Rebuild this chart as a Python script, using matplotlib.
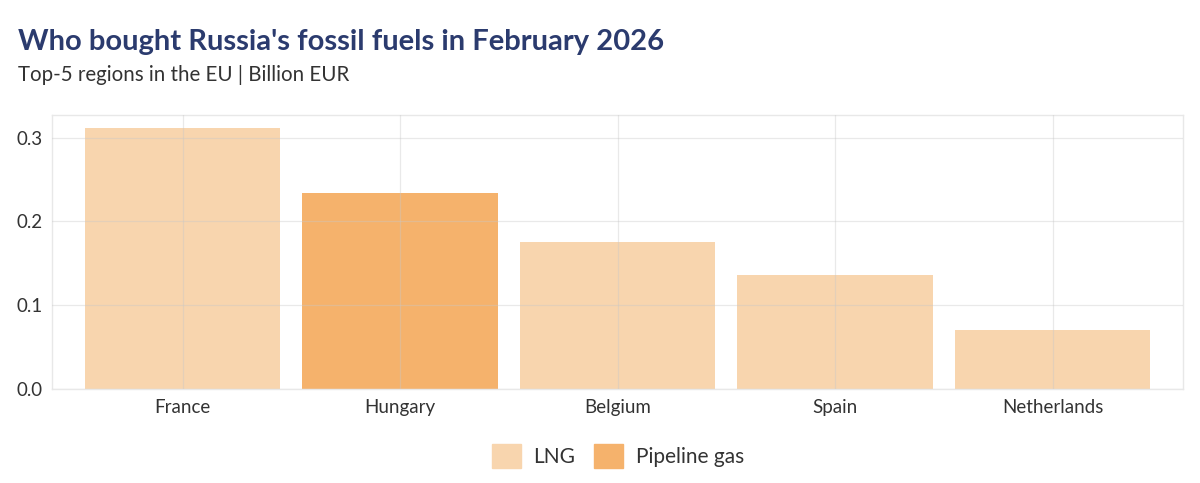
import matplotlib
matplotlib.use("Agg")
import matplotlib.pyplot as plt
from matplotlib.patches import Patch

plt.rcParams['font.family'] = ['Lato', 'DejaVu Sans']

# data
countries = ['France', 'Hungary', 'Belgium', 'Spain', 'Netherlands']
values = [0.312, 0.234, 0.176, 0.136, 0.070]
fuel = ['LNG', 'Pipeline gas', 'LNG', 'LNG', 'LNG']
yticks = [0.0, 0.1, 0.2, 0.3]

colors = {'LNG': '#f8d5ae', 'Pipeline gas': '#f5b26c'}

fig = plt.figure(figsize=(12, 4.83), dpi=100)
ax = fig.add_axes([52 / 1200, 1 - 389 / 483, (1183 - 52) / 1200, (389 - 115) / 483])

x = range(len(countries))
ax.bar(x, values, width=0.9, color=[colors[f] for f in fuel], zorder=1)

ax.set_xlim(-0.6, len(countries) - 0.4)
ax.set_ylim(0, 0.327)
ax.set_xticks(list(x))
ax.set_xticklabels(countries)
ax.set_yticks(yticks)
ax.set_yticklabels([f'{v:.1f}' for v in yticks])
ax.tick_params(length=0, labelsize=13.5, labelcolor='#333333', pad=7)

ax.grid(True, color='#c8c8c8', linewidth=0.9, alpha=0.4, zorder=2)
ax.set_axisbelow(False)
for s in ax.spines.values():
    s.set_color('#e8e8e8')
    s.set_linewidth(1)

fig.text(18 / 1200, 1 - 42 / 483, "Who bought Russia's fossil fuels in February 2026",
         fontsize=21, fontweight='bold', color='#2b3b6e', va='center')
fig.text(18 / 1200, 1 - 75 / 483, 'Top-5 regions in the EU | Billion EUR',
         fontsize=14.8, color='#333333', va='center')

handles = [Patch(color=colors['LNG'], label='LNG'),
           Patch(color=colors['Pipeline gas'], label='Pipeline gas')]
fig.legend(handles=handles, loc='center', bbox_to_anchor=(0.515, 1 - 456 / 483), ncol=2,
           frameon=False, fontsize=15, handlelength=1.4, handleheight=1.4,
           columnspacing=0.9, handletextpad=0.6, labelcolor='#333333')

fig.savefig('out.png', dpi=100)
